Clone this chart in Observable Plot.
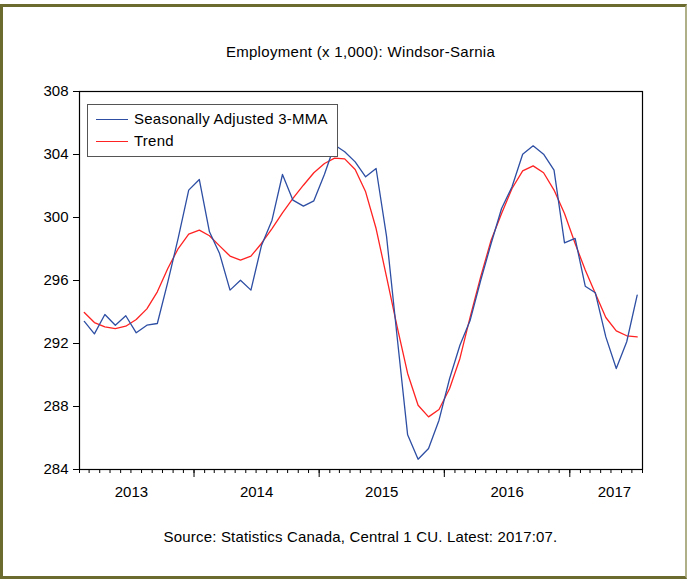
<!DOCTYPE html>
<html>
<head>
<meta charset="utf-8">
<script src="https://cdn.jsdelivr.net/npm/d3@7"></script>
<script src="https://cdn.jsdelivr.net/npm/@observablehq/plot@0.6"></script>
<style>
  html, body { margin: 0; padding: 0; background: #fff; }
  #wrap { position: relative; width: 691px; height: 581px; overflow: hidden; font-family: "Liberation Sans", Arial, sans-serif; color: #000; }
  #border { position: absolute; left: 0; top: 4px; width: 682px; height: 569px;
    border-top: 3px solid #6b6b30; border-left: 3px solid #6b6b30; border-bottom: 3px solid #6b6b30;
    border-right: 2px solid #b0b088; z-index: 5; pointer-events: none; }
  #chart { position: absolute; left: 0; top: 0; z-index: 1; }
  .title { position: absolute; left: 79px; width: 563px; text-align: center; font-size: 15px; line-height: 18px; letter-spacing: 0.3px; }
  .caption { letter-spacing: 0.18px; }
  #legend { position: absolute; left: 87px; top: 104px; width: 249px; height: 51px; border: 1px solid #555; background: #fff; z-index: 3; }
  .lg-line { position: absolute; left: 8px; width: 32px; height: 0; }
  .lg-text { position: absolute; left: 46px; font-size: 15px; line-height: 18px; letter-spacing: 0.25px; white-space: nowrap; }
</style>
</head>
<body>
<div id="wrap">
  <div class="title" style="top:43px">Employment (x 1,000): Windsor-Sarnia</div>
  <div id="chart"></div>
  <div id="legend">
    <div class="lg-line" style="top:14px;border-top:1.3px solid #2d4ea3"></div>
    <div class="lg-text" style="top:5px">Seasonally Adjusted 3-MMA</div>
    <div class="lg-line" style="top:36px;border-top:1.3px solid #ff2222"></div>
    <div class="lg-text" style="top:27px">Trend</div>
  </div>
  <div class="title caption" style="top:528px">Source: Statistics Canada, Central 1 CU. Latest: 2017:07.</div>
  <div id="border"></div>
</div>
<script>
// Monthly observations: Feb 2013 .. Jul 2017
const firstMonth = "2013-02";
const lastMonth = "2017-07";

// Employment, seasonally adjusted 3-month moving average (thousands)
const sa3mma = [
  293.40, 292.61, 293.84, 293.16, 293.76, 292.68, 293.16, 293.27, 295.9, 298.7,
  301.74, 302.41, 299.09, 297.71, 295.39, 296.02, 295.39, 298.2, 299.83, 302.73,
  301.10, 300.72, 301.06, 302.75, 304.6, 304.17, 303.53, 302.58, 303.11, 298.8,
  292.4, 286.2, 284.65, 285.33, 287.13, 289.78, 291.89, 293.48, 296.0, 298.35,
  300.57, 301.95, 304.02, 304.55, 304.02, 303.01, 298.39, 298.67, 295.64, 295.22,
  292.42, 290.41, 292.11, 295.07
];

// Trend (thousands)
const trend = [
  293.97, 293.33, 293.06, 292.95, 293.10, 293.52, 294.20, 295.28, 296.76, 298.03,
  298.94, 299.20, 298.84, 298.20, 297.55, 297.29, 297.55, 298.35, 299.30, 300.30,
  301.21, 302.05, 302.84, 303.43, 303.77, 303.72, 303.05, 301.63, 299.30, 296.23,
  293.05, 290.10, 288.08, 287.34, 287.81, 289.14, 291.05, 293.69, 296.23, 298.56,
  300.25, 301.84, 302.96, 303.28, 302.84, 301.74, 300.25, 298.35, 296.66, 295.17,
  293.65, 292.80, 292.49, 292.42
];

const yTicks = [284, 288, 292, 296, 300, 304, 308];
const yearLabels = ["2013", "2014", "2015", "2016", "2017"];

const parseM = d3.utcParse("%Y-%m");
const start = parseM(firstMonth);
const end = d3.utcMonth.offset(parseM(lastMonth), 1);
const months = d3.utcMonth.range(start, end);
const mid = (m) => new Date((+m + +d3.utcMonth.offset(m, 1)) / 2);

const rows = months.map((m, i) => ({ date: mid(m), sa: sa3mma[i], trend: trend[i] }));

const minorTicks = d3.utcMonth.range(start, d3.utcDay.offset(end, 1));
const majorTicks = yearLabels.map(y => parseM(y + "-01")).filter(d => d > start && d < end);
const labelPad = 82 * 864e5;
const labelTicks = yearLabels.map(y => {
  const a = parseM(y + "-01"), b = d3.utcYear.offset(a, 1);
  let c = (+a + +b) / 2;
  c = Math.min(Math.max(c, +start + labelPad), +end - labelPad);
  return new Date(c);
});

const chart = Plot.plot({
  width: 691,
  height: 520,
  marginLeft: 79,
  marginRight: 49,
  marginTop: 91,
  marginBottom: 51,
  style: { fontFamily: "'Liberation Sans', Arial, sans-serif", fontSize: "15px", background: "transparent", color: "#000" },
  x: { type: "utc", domain: [start, end] },
  y: { domain: [284, 308] },
  marks: [
    Plot.axisY({ ticks: yTicks, tickSize: 6, tickPadding: 5, label: null, fontSize: 15 }),
    Plot.axisX({ ticks: minorTicks, tickSize: 4, tickFormat: () => "", label: null }),
    Plot.axisX({ ticks: majorTicks, tickSize: 8, tickFormat: () => "", label: null }),
    Plot.axisX({ ticks: labelTicks, tickSize: 0, tickPadding: 17, tickFormat: d => String(d.getUTCFullYear()), label: null, fontSize: 15 }),
    Plot.line(rows, { x: "date", y: "trend", stroke: "#ff2222", strokeWidth: 1.3 }),
    Plot.line(rows, { x: "date", y: "sa", stroke: "#2d4ea3", strokeWidth: 1.3 }),
    Plot.frame({ stroke: "#000", strokeWidth: 1.2 })
  ]
});
document.getElementById("chart").appendChild(chart);
</script>
</body>
</html>
